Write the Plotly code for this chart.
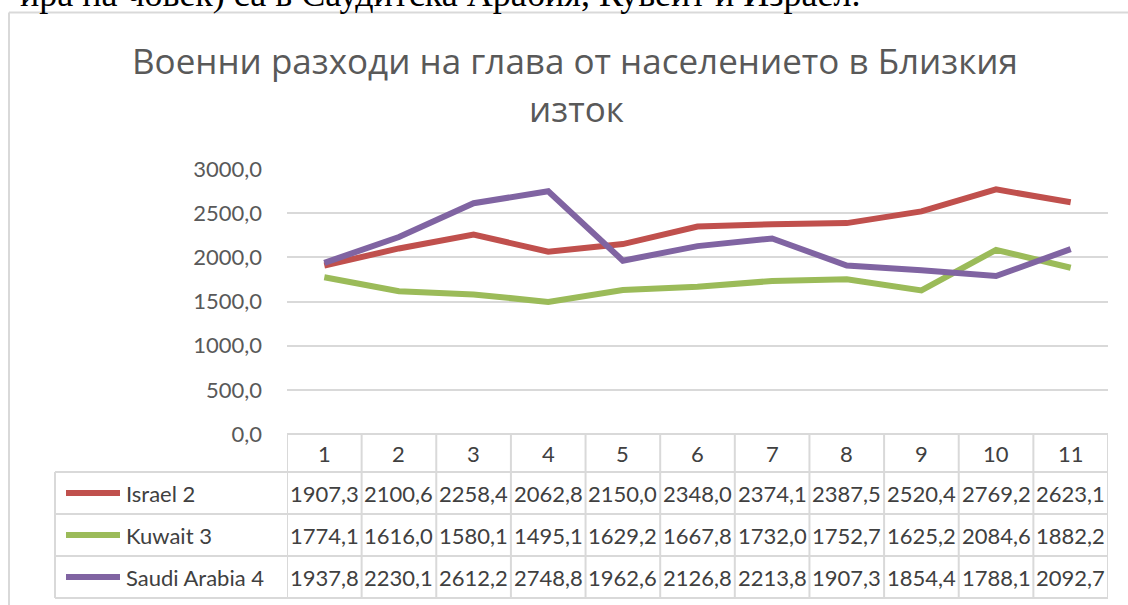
import plotly.graph_objects as go

# ---- data ----
periods = [1, 2, 3, 4, 5, 6, 7, 8, 9, 10, 11]
series_names = ["Israel 2", "Kuwait 3", "Saudi Arabia 4"]
israel = [1907.3, 2100.6, 2258.4, 2062.8, 2150.0, 2348.0, 2374.1, 2387.5, 2520.4, 2769.2, 2623.1]
kuwait = [1774.1, 1616.0, 1580.1, 1495.1, 1629.2, 1667.8, 1732.0, 1752.7, 1625.2, 2084.6, 1882.2]
saudi = [1937.8, 2230.1, 2612.2, 2748.8, 1962.6, 2126.8, 2213.8, 1907.3, 1854.4, 1788.1, 2092.7]
y_ticks = [0, 500, 1000, 1500, 2000, 2500, 3000]
title_line1 = "Военни разходи на глава от населението в Близкия"
title_line2 = "изток"
top_text = "ира на човек) са в Саудитска Арабия, Кувейт и Израел."

series_values = [israel, kuwait, saudi]
colors = ["#C0504D", "#9BBB59", "#8064A2"]

W, H = 1128, 605
L, R, T, B = 287, 1108, 169, 434  # plot area in pixels


def px(x):
    return (x - L) / (R - L)


def py(y):
    return (B - y) / (B - T)


LABEL_FONT = "Lato, Noto Sans, sans-serif"
TEXT_COL = "#404040"
GRID = "#d9d9d9"

fig = go.Figure()
for name, vals, col in zip(series_names, series_values, colors):
    fig.add_trace(go.Scatter(x=periods, y=vals, mode="lines", name=name,
                             line=dict(color=col, width=6), showlegend=False))

shapes = []
annotations = []

# outer chart border (top and left)
shapes.append(dict(type="line", xref="paper", yref="paper", x0=px(9), x1=px(1128),
                   y0=py(12.5), y1=py(12.5), line=dict(color=GRID, width=2)))
shapes.append(dict(type="line", xref="paper", yref="paper", x0=px(9), x1=px(9),
                   y0=py(12.5), y1=py(605), line=dict(color=GRID, width=2)))

# table grid
row_tops = [434, 472, 514, 556, 598]
for i, yy in enumerate(row_tops):
    x0 = L if i == 0 else 55
    shapes.append(dict(type="line", xref="paper", yref="paper", x0=px(x0), x1=px(R),
                       y0=py(yy), y1=py(yy), line=dict(color=GRID, width=2)))
for k in range(len(periods) + 1):
    xv = periods[0] - 0.5 + k
    shapes.append(dict(type="line", xref="x", yref="paper", x0=xv, x1=xv,
                       y0=py(434), y1=py(598), line=dict(color=GRID, width=2)))
shapes.append(dict(type="line", xref="paper", yref="paper", x0=px(55), x1=px(55),
                   y0=py(472), y1=py(598), line=dict(color=GRID, width=2)))

# header numbers
for p in periods:
    annotations.append(dict(x=p, y=py(453), xref="x", yref="paper", text=str(p),
                            showarrow=False, xanchor="center", yanchor="middle",
                            font=dict(family=LABEL_FONT, size=22, color=TEXT_COL)))

row_centers = [493, 535, 577]
for name, vals, col, yc in zip(series_names, series_values, colors, row_centers):
    shapes.append(dict(type="line", xref="paper", yref="paper", x0=px(66), x1=px(120),
                       y0=py(yc), y1=py(yc), line=dict(color=col, width=6)))
    annotations.append(dict(x=px(124), y=py(yc), xref="paper", yref="paper", text=name,
                            showarrow=False, xanchor="left", yanchor="middle",
                            font=dict(family=LABEL_FONT, size=22, color=TEXT_COL)))
    for p, v in zip(periods, vals):
        annotations.append(dict(x=p, y=py(yc), xref="x", yref="paper",
                                text=f"{v:.1f}".replace(".", ","),
                                showarrow=False, xanchor="center", yanchor="middle",
                                font=dict(family=LABEL_FONT, size=22, color=TEXT_COL)))

# title (two lines)
annotations.append(dict(x=px(575), y=py(60), xref="paper", yref="paper", text=title_line1,
                        showarrow=False, xanchor="center", yanchor="middle",
                        font=dict(family="Open Sans, sans-serif", size=35, color="#595959")))
annotations.append(dict(x=px(576), y=py(108), xref="paper", yref="paper", text=title_line2,
                        showarrow=False, xanchor="center", yanchor="middle",
                        font=dict(family="Open Sans, sans-serif", size=35, color="#595959")))

# cut-off document text at the very top
annotations.append(dict(x=px(862), y=py(16), xref="paper", yref="paper", text=top_text,
                        showarrow=False, xanchor="right", yanchor="bottom",
                        font=dict(family="Liberation Serif, serif", size=36, color="#000000")))

fig.update_layout(
    width=W, height=H,
    margin=dict(l=L, r=W - R, t=T, b=H - B, pad=0),
    paper_bgcolor="white", plot_bgcolor="white",
    separators=",.",
    shapes=shapes, annotations=annotations,
    xaxis=dict(range=[0.5, 11.5], showgrid=False, zeroline=False,
               showticklabels=False, showline=False, fixedrange=True),
    yaxis=dict(range=[0, 3000], tickvals=y_ticks, tickformat=".1f",
               showgrid=True, gridcolor=GRID, gridwidth=2, zeroline=False,
               showline=False, ticks="", ticklabelstandoff=24,
               tickfont=dict(family=LABEL_FONT, size=22, color="#595959"),
               fixedrange=True),
)

fig.write_html("out.html", config={"displayModeBar": False},
               post_script="document.body.style.margin='0px';")
